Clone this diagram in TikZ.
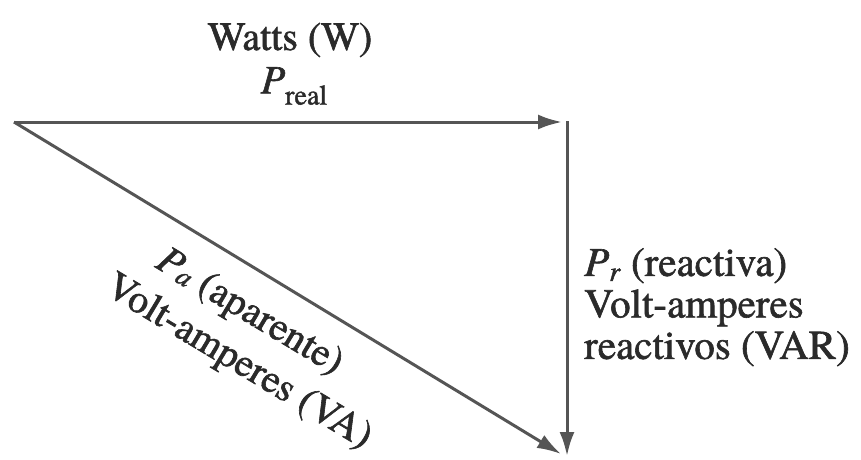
\documentclass[tikz,border=0pt]{standalone}
\usepackage{fontspec}
\setmainfont{TeX Gyre Termes}[FakeBold=1.5]
\usetikzlibrary{arrows.meta}
\definecolor{txtc}{HTML}{2A2A2A}
\definecolor{linec}{HTML}{555555}
\newcommand{\lowsub}[2][0.28em]{\raisebox{-#1}{\fontsize{28}{28}\selectfont #2}}
\begin{document}
\begin{tikzpicture}[x=1pt,y=1pt,
  vec/.style={draw=linec,line width=3pt,-{Latex[length=24pt,width=15pt]}},
  lbl/.style={text=txtc,font=\fontsize{40}{41}\selectfont,inner sep=0pt}]
\useasboundingbox (0,0) rectangle (861,459);
\coordinate (A) at (14,337);
\coordinate (Bh) at (562,337);
\coordinate (Bt) at (567,338);
\coordinate (C) at (567,3);
\coordinate (Cd) at (561,5);
\draw[vec] (A) -- (Bh);
\draw[vec] (Bt) -- (C);
\draw[vec] (A) -- (Cd);
\node[lbl] (watts) at (290,419) {Watts (W)};
\node[lbl] (preal) at (294,373) {\textit{P}\lowsub{real}};
\node[lbl,anchor=north west,align=left,font=\fontsize{41}{41.5}\selectfont] (react) at (584,211)
  {\textit{P}\lowsub[0.12em]{\textit{r}} (reactiva)\\Volt-amperes\\reactivos (VAR)};
\node[lbl,rotate=-31] (apar1) at (249,146)
  {\textit{P}\lowsub[0.05em]{\textit{a}} (aparente)};
\node[lbl,rotate=-31] (apar2) at (238,96)
  {Volt-amperes (VA)};
\end{tikzpicture}
\end{document}
